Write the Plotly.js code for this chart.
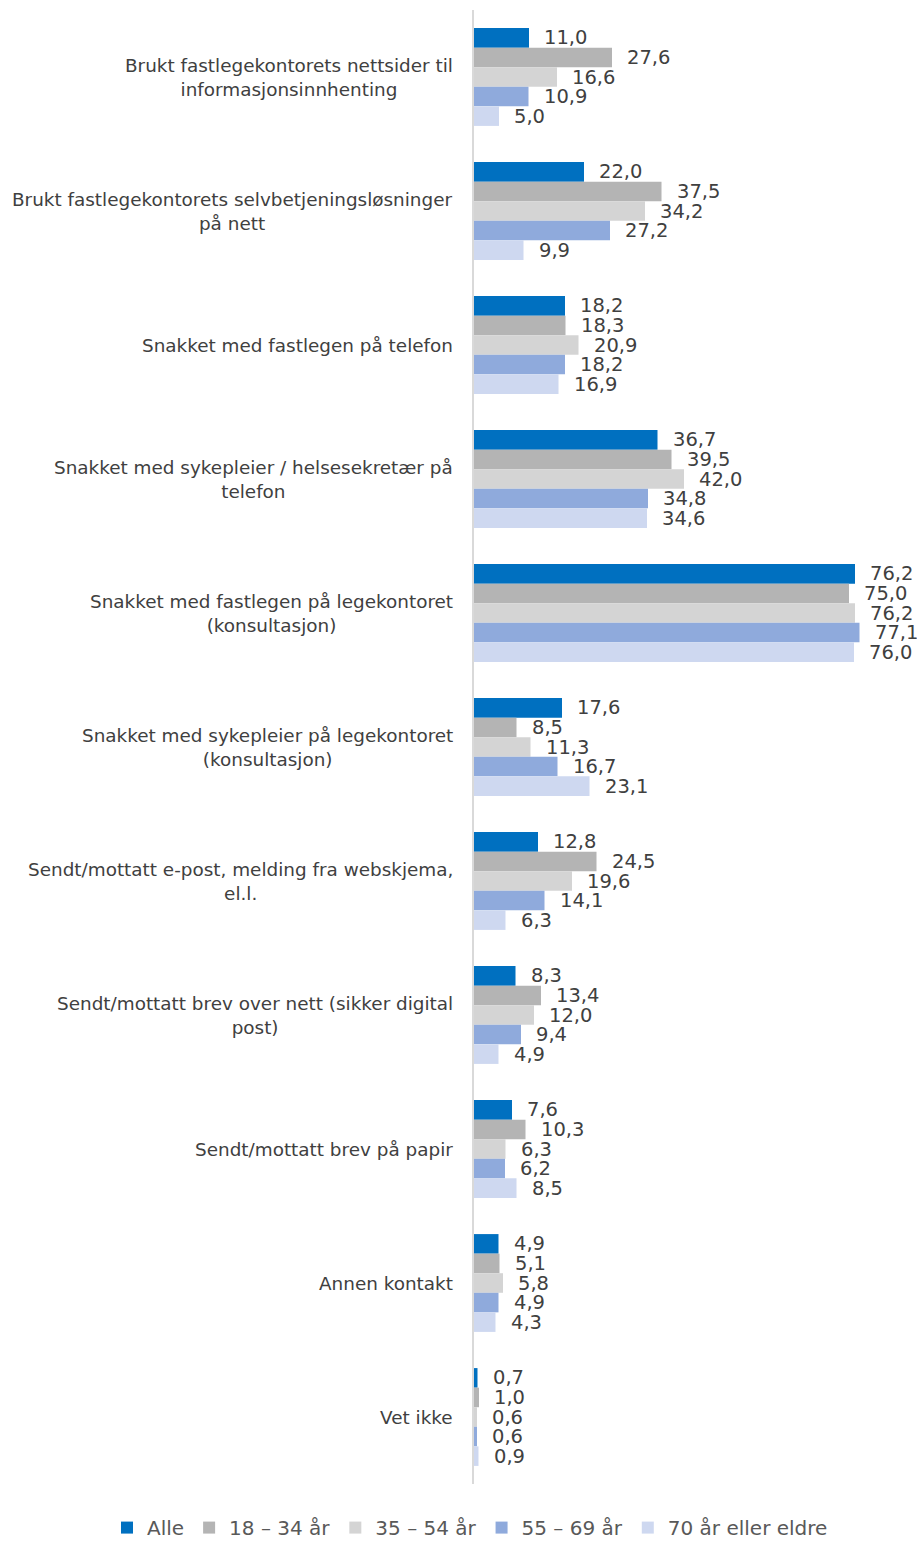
<!DOCTYPE html>
<html>
<head>
<meta charset="utf-8">
<script src="https://cdn.plot.ly/plotly-3.0.1.min.js"></script>
<style>html,body{margin:0;padding:0;background:#fff;}#chart{width:917px;height:1542px;}</style>
</head>
<body>
<div id="chart"></div>
<script>
const categories = [
  "Brukt fastlegekontorets nettsider til<br>informasjonsinnhenting",
  "Brukt fastlegekontorets selvbetjeningsløsninger<br>på nett",
  "Snakket med fastlegen på telefon",
  "Snakket med sykepleier / helsesekretær på<br>telefon",
  "Snakket med fastlegen på legekontoret<br>(konsultasjon)",
  "Snakket med sykepleier på legekontoret<br>(konsultasjon)",
  "Sendt/mottatt e-post, melding fra webskjema,<br>el.l.",
  "Sendt/mottatt brev over nett (sikker digital<br>post)",
  "Sendt/mottatt brev på papir",
  "Annen kontakt",
  "Vet ikke"
];
const seriesNames = ["Alle", "18 – 34 år", "35 – 54 år", "55 – 69 år", "70 år eller eldre"];
const alle    = [11.0, 22.0, 18.2, 36.7, 76.2, 17.6, 12.8, 8.3, 7.6, 4.9, 0.7];
const age1834 = [27.6, 37.5, 18.3, 39.5, 75.0, 8.5, 24.5, 13.4, 10.3, 5.1, 1.0];
const age3554 = [16.6, 34.2, 20.9, 42.0, 76.2, 11.3, 19.6, 12.0, 6.3, 5.8, 0.6];
const age5569 = [10.9, 27.2, 18.2, 34.8, 77.1, 16.7, 14.1, 9.4, 6.2, 4.9, 0.6];
const age70   = [5.0, 9.9, 16.9, 34.6, 76.0, 23.1, 6.3, 4.9, 8.5, 4.3, 0.9];
const seriesValues = [alle, age1834, age3554, age5569, age70];
const colors = ["#0070C0", "#B4B4B4", "#D4D4D4", "#8FAADC", "#CED8F0"];

const fmt = v => v.toFixed(1).replace('.', ',');

const traces = seriesValues.map((vals, i) => ({
  type: 'bar',
  orientation: 'h',
  name: seriesNames[i],
  y: categories,
  x: vals,
  marker: {color: colors[i]},
  hoverinfo: 'x+name'
}));

const bargap = 0.27;
const nS = seriesValues.length;
const barW = (1 - bargap) / nS;

const annotations = [];
// category labels
categories.forEach(c => {
  annotations.push({
    xref: 'paper', yref: 'y', x: 0, y: c,
    xanchor: 'right', yanchor: 'middle', xshift: -19,
    text: c, showarrow: false, align: 'center',
    font: {family: 'DejaVu Sans', size: 18.4, color: '#404040'}
  });
});
// value labels (category axis uses serial numbers; offset per trace within group)
seriesValues.forEach((vals, i) => {
  const off = -(1 - bargap) / 2 + barW * (i + 0.5);
  vals.forEach((v, j) => {
    annotations.push({
      xref: 'x', yref: 'y', x: v, y: j + off,
      xanchor: 'left', yanchor: 'middle', xshift: 13,
      text: fmt(v), showarrow: false,
      font: {family: 'DejaVu Sans', size: 19.5, color: '#404040'}
    });
  });
});

const layout = {
  width: 917, height: 1542,
  margin: {l: 474, r: 43, t: 10, b: 58, autoexpand: false},
  paper_bgcolor: '#fff', plot_bgcolor: '#fff',
  barmode: 'group', bargap: bargap, bargroupgap: 0,
  showlegend: true,
  legend: {
    orientation: 'h', xref: 'paper', x: -0.9175, xanchor: 'left',
    yref: 'paper', y: -0.0428, yanchor: 'bottom',
    font: {family: 'DejaVu Sans', size: 20, color: '#595959'},
    traceorder: 'normal', itemwidth: 30
  },
  xaxis: {range: [0, 80], visible: false, showgrid: false, zeroline: false, fixedrange: true},
  yaxis: {
    type: 'category', autorange: 'reversed', showticklabels: false,
    showline: true, linecolor: '#D9D9D9', linewidth: 2, ticks: '',
    showgrid: false, zeroline: false, fixedrange: true
  },
  annotations: annotations
};

Plotly.newPlot('chart', traces, layout, {displayModeBar: false, staticPlot: true});
</script>
</body>
</html>
